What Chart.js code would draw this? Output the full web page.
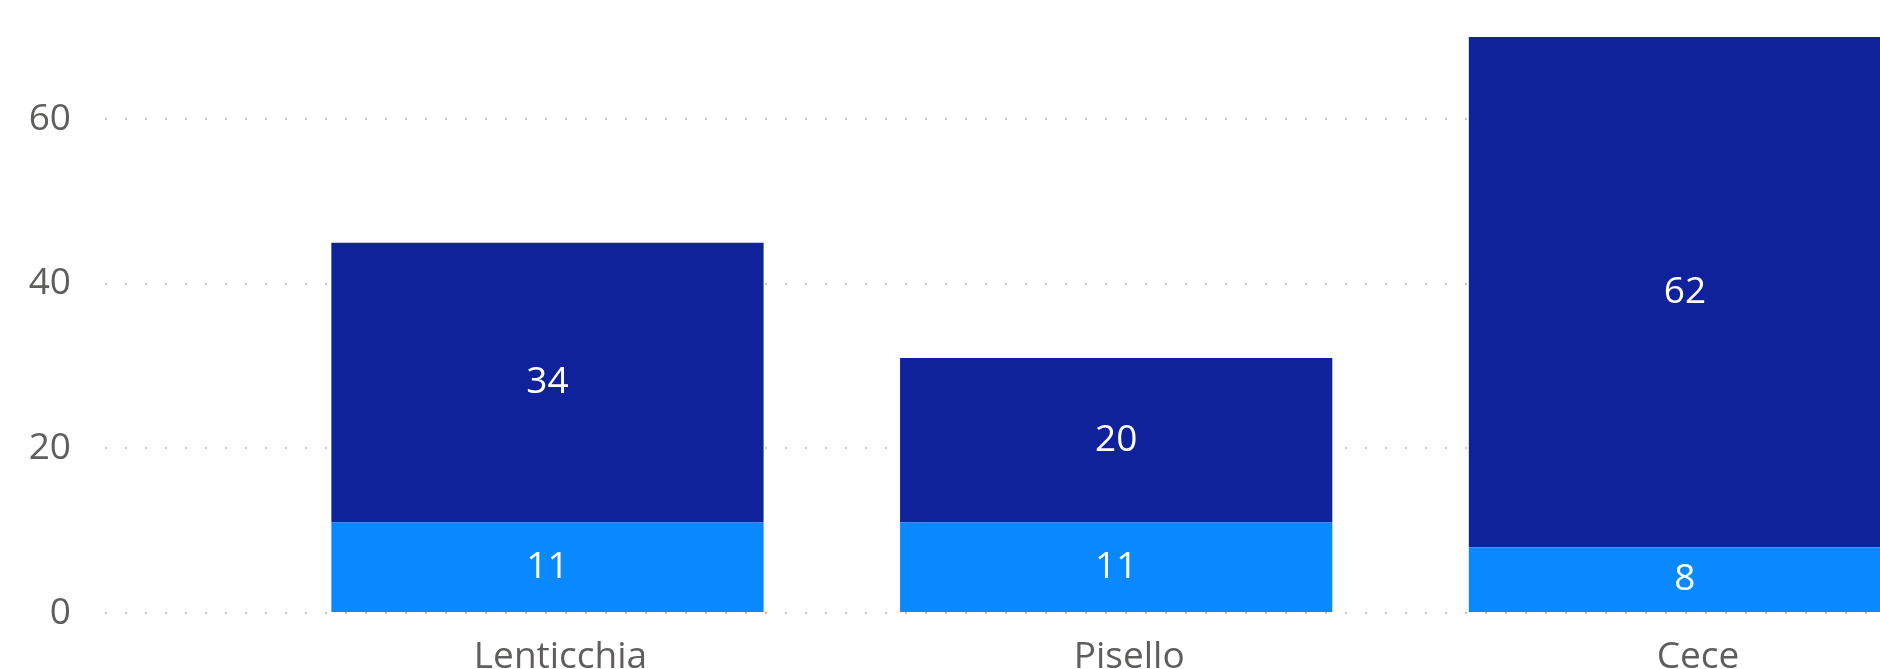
<!DOCTYPE html>
<html>
<head>
<meta charset="utf-8">
<title>Legumi</title>
<script src="https://cdn.jsdelivr.net/npm/chart.js@4.4.0/dist/chart.umd.min.js"></script>
<style>
  html, body { margin: 0; padding: 0; background: #fff; overflow: hidden; }
  canvas { display: block; }
</style>
</head>
<body>
<canvas id="chartUI" width="1880" height="669"></canvas>
<script>
// Dati
var categorie = ['Lenticchia', 'Pisello', 'Cece'];
var serieBase = [11, 11, 8];
var serieAlta = [34, 20, 62];
var tickY = [0, 20, 40, 60];

var FONT = '"Open Sans", "Noto Sans", sans-serif';
var GRIGIO = '#605E5C';

// punti {x, y} per l'asse x lineare (indice categoria)
var toPoints = function(vals) {
	return vals.map(function(v, i) { return { x: i, y: v }; });
};

// Etichette dei valori al centro di ogni segmento
var etichetteValori = {
	id: 'etichetteValori',
	afterDatasetsDraw: function(chart) {
		var c = chart.ctx;
		c.save();
		c.font = '37px ' + FONT;
		c.fillStyle = '#ffffff';
		c.textAlign = 'center';
		c.textBaseline = 'middle';
		chart.data.datasets.forEach(function(ds, di) {
			chart.getDatasetMeta(di).data.forEach(function(bar, i) {
				c.fillText(String(ds.data[i].y), bar.x, (bar.y + bar.base) / 2);
			});
		});
		c.restore();
	}
};

var ctx = document.getElementById('chartUI');

var chart = new Chart(ctx, {
	type: 'bar',
	data: {
		datasets: [
			{ label: 'Serie 1', data: toPoints(serieBase), backgroundColor: '#0A88FF' },
			{ label: 'Serie 2', data: toPoints(serieAlta), backgroundColor: '#0F229B' }
		]
	},
	options: {
		responsive: false,
		animation: false,
		layout: { padding: { top: 22, right: 0, bottom: 0, left: 0 } },
		plugins: {
			legend: { display: false },
			tooltip: { enabled: false }
		},
		datasets: {
			bar: { barPercentage: 0.76, categoryPercentage: 1 }
		},
		scales: {
			x: {
				type: 'linear',
				stacked: true,
				offset: false,
				bounds: 'data',
				min: -0.778,
				max: 2.343,
				grid: { display: false },
				border: { display: false },
				afterFit: function(s) { s.height = 56; },
				afterBuildTicks: function(s) {
					s.ticks = categorie.map(function(c, i) { return { value: i }; });
				},
				ticks: {
					padding: 14,
					labelOffset: 13,
					maxRotation: 0,
					autoSkip: false,
					color: GRIGIO,
					font: { family: FONT, size: 37 },
					callback: function(v) { return categorie[v]; }
				}
			},
			y: {
				stacked: true,
				bounds: 'data',
				min: 0,
				max: 71.8,
				afterFit: function(s) { s.width = 105; },
				afterBuildTicks: function(s) {
					s.ticks = tickY.map(function(v) { return { value: v }; });
				},
				// tacche invisibili: servono solo a distanziare le etichette
				grid: { color: '#C4C4C4', lineWidth: 2, drawTicks: true, tickLength: 34, tickColor: 'rgba(0,0,0,0)' },
				border: { display: false, dash: [2, 18] },
				ticks: {
					padding: 0,
					color: GRIGIO,
					font: { family: FONT, size: 37 }
				}
			}
		}
	},
	plugins: [etichetteValori]
});
</script>
</body>
</html>
